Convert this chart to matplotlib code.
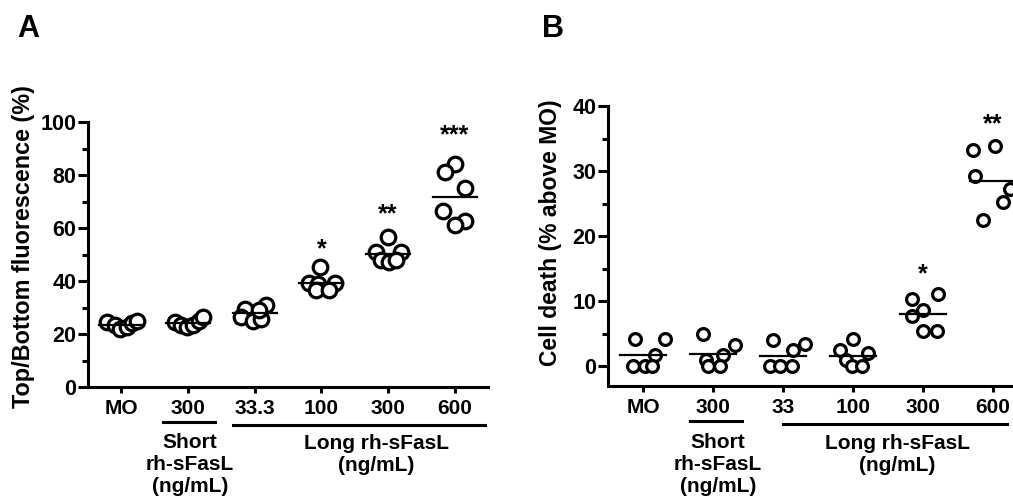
import numpy as np
import matplotlib
matplotlib.use("Agg")
import matplotlib.pyplot as plt
from matplotlib.ticker import MultipleLocator

plt.rcParams['font.family'] = ['Liberation Sans', 'DejaVu Sans']
plt.rcParams['font.weight'] = 'bold'

# ---- data ----
groups_a = ['MO', '300', '33.3', '100', '300', '600']
fluor_a = [
    [24.5, 23.5, 22.0, 22.5, 24.0, 25.0],
    [24.5, 23.5, 22.5, 23.5, 25.0, 26.5],
    [29.5, 26.5, 25.0, 25.5, 31.0, 29.0],
    [45.3, 39.3, 39.3, 39.0, 36.6, 36.6],
    [56.6, 51.0, 51.0, 48.0, 47.0, 48.0],
    [84.0, 81.0, 75.0, 66.5, 62.5, 61.0],
]
stars_a = ['', '', '', '*', '**', '***']

groups_b = ['MO', '300', '33', '100', '300', '600']
death_b = [
    [4.2, 4.2, 1.8, 0.0, 0.0, 0.0],
    [5.0, 3.3, 1.8, 1.0, 0.0, 0.0],
    [4.0, 3.4, 2.6, 0.0, 0.0, 0.0],
    [4.2, 2.6, 2.1, 1.0, 0.0, 0.0],
    [10.3, 11.1, 8.6, 7.7, 5.4, 5.4],
    [33.2, 33.8, 29.2, 27.2, 25.2, 22.5],
]
stars_b = ['', '', '', '', '*', '**']

# ---- layout (horizontal scatter of the points, star heights) ----
jit_a = [
    [-0.22, -0.10, -0.02, 0.08, 0.16, 0.24],
    [-0.20, -0.10, -0.02, 0.08, 0.16, 0.22],
    [-0.14, -0.20, -0.03, 0.09, 0.17, 0.06],
    [-0.02, -0.18, 0.20, -0.05, -0.08, 0.12],
    [0.00, -0.18, 0.20, -0.10, 0.02, 0.12],
    [0.00, -0.15, 0.15, -0.17, 0.15, 0.00],
]
jit_b = [
    [-0.11, 0.31, 0.17, -0.14, 0.03, 0.13],
    [-0.14, 0.31, 0.14, -0.10, -0.07, 0.10],
    [-0.14, 0.31, 0.14, -0.19, -0.04, 0.13],
    [0.00, -0.19, 0.21, -0.10, -0.02, 0.13],
    [-0.16, 0.21, 0.00, -0.16, 0.00, 0.20],
    [-0.29, 0.03, -0.26, 0.24, 0.14, -0.14],
]
star_y_a = [0, 0, 0, 52, 65, 95]
star_y_b = [0, 0, 0, 0, 14.1, 37.2]

LW = 2.2

fig = plt.figure(figsize=(10.13, 4.98), dpi=100)
W, H = 1013, 498
ax_a = fig.add_axes([88 / W, 111 / H, 400 / W, 265 / H])
ax_b = fig.add_axes([608 / W, 112 / H, 420 / W, 280 / H])


def draw_panel(ax, vals, jit, stars, star_y, labels, ms):
    for i, (v, j) in enumerate(zip(vals, jit)):
        x = i + np.array(j)
        ax.plot(x, v, 'o', ms=ms, mfc='white', mec='black', mew=2.3,
                ls='none', clip_on=False, zorder=3)
        m = np.mean(v)
        ax.plot([i - 0.33, i + 0.33], [m, m], color='black', lw=1.6,
                zorder=4, clip_on=False)
        if stars[i]:
            ax.text(i, star_y[i], stars[i], ha='center', va='center',
                    fontsize=18, fontweight='bold')
    ax.set_xlim(-0.5, 5.5)
    ax.set_xticks(range(len(labels)))
    ax.set_xticklabels(labels, fontsize=15, fontweight='bold')
    for s in ['top', 'right']:
        ax.spines[s].set_visible(False)
    for s in ['left', 'bottom']:
        ax.spines[s].set_linewidth(LW)
    ax.tick_params(axis='y', which='major', length=7, width=LW, pad=1.5,
                   labelsize=15.5)
    ax.tick_params(axis='y', which='minor', length=4, width=LW)
    ax.tick_params(axis='x', which='major', length=4.5, width=LW, pad=4)


draw_panel(ax_a, fluor_a, jit_a, stars_a, star_y_a, groups_a, 10.5)
ax_a.set_ylim(0, 100)
ax_a.set_yticks([0, 20, 40, 60, 80, 100])
ax_a.yaxis.set_minor_locator(MultipleLocator(10))
for lab in ax_a.get_yticklabels():
    lab.set_fontweight('bold')

draw_panel(ax_b, death_b, jit_b, stars_b, star_y_b, groups_b, 8.5)
ax_b.set_ylim(-3, 40)
ax_b.set_yticks([0, 10, 20, 30, 40])
ax_b.yaxis.set_minor_locator(plt.FixedLocator([5, 15, 25, 35]))
for lab in ax_b.get_yticklabels():
    lab.set_fontweight('bold')


# group brackets and labels under the x axis
def group_label(ax, x0, x1, yline, xt, yt, text):
    tr = ax.get_xaxis_transform()
    ax.plot([x0, x1], [yline, yline], color='black', lw=LW, transform=tr,
            clip_on=False)
    ax.text(xt, yt, text, transform=tr, ha='center', va='center',
            fontsize=15, fontweight='bold', linespacing=1.2)


group_label(ax_a, 0.62, 1.40, -0.132, 1.03, -0.294, 'Short\nrh-sFasL\n(ng/mL)')
group_label(ax_a, 1.67, 5.46, -0.143, 3.82, -0.255, 'Long rh-sFasL\n(ng/mL)')
group_label(ax_b, 0.67, 1.41, -0.125, 1.07, -0.282, 'Short\nrh-sFasL\n(ng/mL)')
group_label(ax_b, 2.00, 5.20, -0.136, 3.63, -0.245, 'Long rh-sFasL\n(ng/mL)')

# axis titles and panel letters
fig.text(24 / W, 1 - 247 / H, 'Top/Bottom fluorescence (%)', rotation=90,
         ha='center', va='center', fontsize=16.8, fontweight='bold')
fig.text(550 / W, 1 - 233 / H, 'Cell death (% above MO)', rotation=90,
         ha='center', va='center', fontsize=16.5, fontweight='bold')
fig.text(17 / W, 1 - 37 / H, 'A', ha='left', va='baseline', fontsize=22,
         fontweight='bold')
fig.text(542 / W, 1 - 37 / H, 'B', ha='left', va='baseline', fontsize=22,
         fontweight='bold')

fig.savefig('out.png', dpi=100, facecolor='white')
